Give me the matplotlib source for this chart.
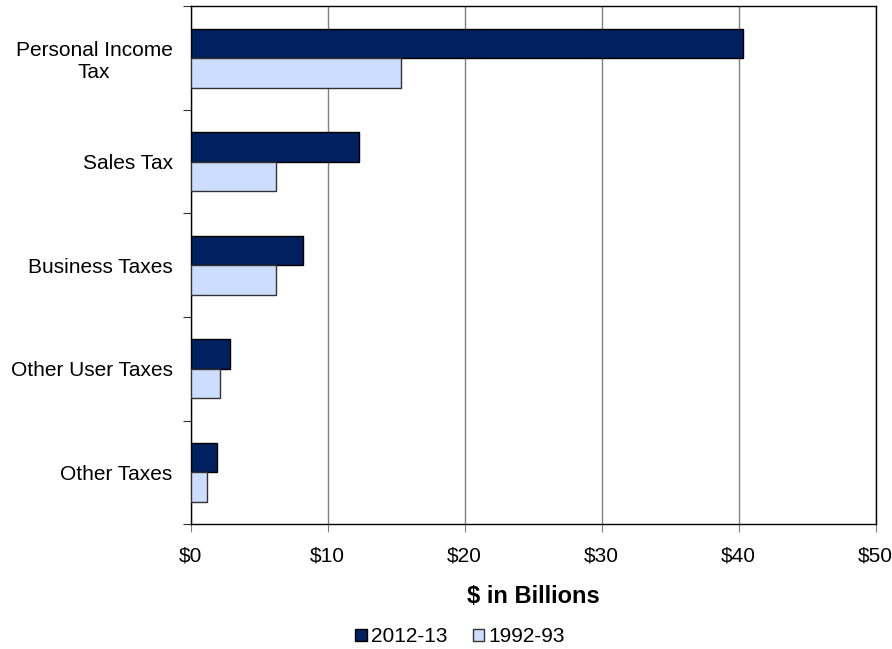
import matplotlib
matplotlib.use("Agg")
import matplotlib.pyplot as plt
import numpy as np

categories = ["Personal Income\nTax", "Sales Tax", "Business Taxes", "Other User Taxes", "Other Taxes"]
vals_2012 = [40.3, 12.3, 8.2, 2.9, 1.9]
vals_1992 = [15.35, 6.25, 6.25, 2.15, 1.2]
series_names = ["2012-13", "1992-93"]
xticks = [0, 10, 20, 30, 40, 50]

plt.rcParams["font.family"] = ["Liberation Sans", "DejaVu Sans"]

fig = plt.figure(figsize=(8.92, 6.49), dpi=100)
ax = fig.add_axes([0.2138, 0.1926, 0.7679, 0.7974])

n = len(categories)
y = np.arange(n)
h = 0.285
ax.barh(y - h / 2, vals_2012, h, color="#002060", edgecolor="black", lw=1, label=series_names[0], zorder=3)
ax.barh(y + h / 2, vals_1992, h, color="#CCDDFF", edgecolor="#333333", lw=1, label=series_names[1], zorder=3)

ax.set_ylim(n - 0.5, -0.5)
ax.set_xlim(0, 50)
ax.set_xticks(xticks)
ax.set_xticklabels([f"${v}" for v in xticks], fontsize=15)
ax.xaxis.grid(True, color="#808080", lw=1, zorder=0)
ax.tick_params(axis="x", length=6, color="#808080", pad=10)

# category separators as major ticks, labels at centers as minor ticks
ax.set_yticks(np.arange(-0.5, n, 1))
ax.set_yticklabels([])
ax.set_yticks(y, minor=True)
ax.set_yticklabels(categories, minor=True, fontsize=15, ha="right", multialignment="center")
ax.tick_params(axis="y", which="major", length=6, color="#333333")
ax.tick_params(axis="y", which="minor", length=0, pad=13)

for s in ax.spines.values():
    s.set_color("black")
    s.set_linewidth(1)

ax.set_xlabel("$ in Billions", fontsize=17, fontweight="bold", labelpad=14)

fig.legend(*ax.get_legend_handles_labels(), loc="center", bbox_to_anchor=(460 / 892, 1 - 637 / 649),
           ncol=2, frameon=False, fontsize=15, handlelength=0.55, handleheight=0.55,
           handletextpad=0.2, columnspacing=1.2, borderpad=0)

fig.savefig("out.png", dpi=100)
